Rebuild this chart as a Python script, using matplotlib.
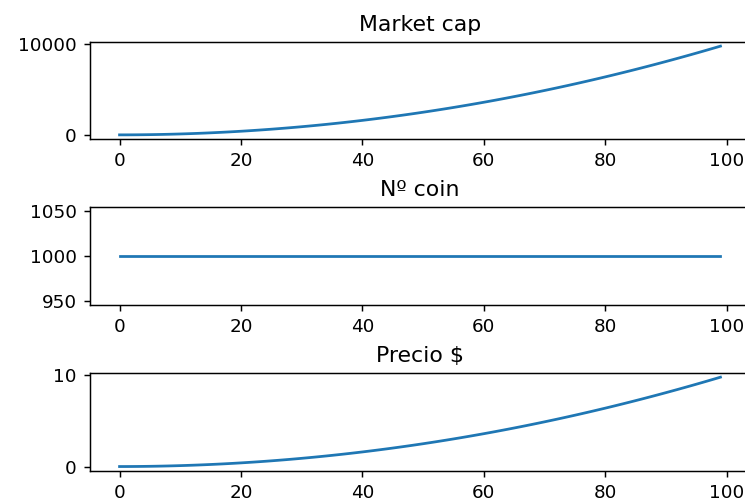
import matplotlib
matplotlib.use('Agg')
import matplotlib.pyplot as plt

# x axis: day index
dias = list(range(100))

market_cap = [
    0, 1, 4, 9, 16, 25, 36, 49, 64, 81,
    100, 121, 144, 169, 196, 225, 256, 289, 324, 361,
    400, 441, 484, 529, 576, 625, 676, 729, 784, 841,
    900, 961, 1024, 1089, 1156, 1225, 1296, 1369, 1444, 1521,
    1600, 1681, 1764, 1849, 1936, 2025, 2116, 2209, 2304, 2401,
    2500, 2601, 2704, 2809, 2916, 3025, 3136, 3249, 3364, 3481,
    3600, 3721, 3844, 3969, 4096, 4225, 4356, 4489, 4624, 4761,
    4900, 5041, 5184, 5329, 5476, 5625, 5776, 5929, 6084, 6241,
    6400, 6561, 6724, 6889, 7056, 7225, 7396, 7569, 7744, 7921,
    8100, 8281, 8464, 8649, 8836, 9025, 9216, 9409, 9604, 9801,
]

n_coin = [
    1000, 1000, 1000, 1000, 1000, 1000, 1000, 1000, 1000, 1000,
    1000, 1000, 1000, 1000, 1000, 1000, 1000, 1000, 1000, 1000,
    1000, 1000, 1000, 1000, 1000, 1000, 1000, 1000, 1000, 1000,
    1000, 1000, 1000, 1000, 1000, 1000, 1000, 1000, 1000, 1000,
    1000, 1000, 1000, 1000, 1000, 1000, 1000, 1000, 1000, 1000,
    1000, 1000, 1000, 1000, 1000, 1000, 1000, 1000, 1000, 1000,
    1000, 1000, 1000, 1000, 1000, 1000, 1000, 1000, 1000, 1000,
    1000, 1000, 1000, 1000, 1000, 1000, 1000, 1000, 1000, 1000,
    1000, 1000, 1000, 1000, 1000, 1000, 1000, 1000, 1000, 1000,
    1000, 1000, 1000, 1000, 1000, 1000, 1000, 1000, 1000, 1000,
]

precio = [
    0.0, 0.001, 0.004, 0.009, 0.016, 0.025, 0.036, 0.049, 0.064, 0.081,
    0.1, 0.121, 0.144, 0.169, 0.196, 0.225, 0.256, 0.289, 0.324, 0.361,
    0.4, 0.441, 0.484, 0.529, 0.576, 0.625, 0.676, 0.729, 0.784, 0.841,
    0.9, 0.961, 1.024, 1.089, 1.156, 1.225, 1.296, 1.369, 1.444, 1.521,
    1.6, 1.681, 1.764, 1.849, 1.936, 2.025, 2.116, 2.209, 2.304, 2.401,
    2.5, 2.601, 2.704, 2.809, 2.916, 3.025, 3.136, 3.249, 3.364, 3.481,
    3.6, 3.721, 3.844, 3.969, 4.096, 4.225, 4.356, 4.489, 4.624, 4.761,
    4.9, 5.041, 5.184, 5.329, 5.476, 5.625, 5.776, 5.929, 6.084, 6.241,
    6.4, 6.561, 6.724, 6.889, 7.056, 7.225, 7.396, 7.569, 7.744, 7.921,
    8.1, 8.281, 8.464, 8.649, 8.836, 9.025, 9.216, 9.409, 9.604, 9.801,
]

titulos = ['Market cap', 'Nº coin', 'Precio $']
series = [market_cap, n_coin, precio]

dpi = 132
fig = plt.figure(figsize=(745 / dpi, 503 / dpi), dpi=dpi)

# axes positions in pixels (top, bottom); the right edge is cut off in the original
left_px, width_px = 89.5, 661
boxes = [(41.7, 139.3), (206.7, 305.0), (372.7, 471.0)]

for (top, bot), titulo, ys in zip(boxes, titulos, series):
    ax = fig.add_axes([left_px / 745, (503 - bot) / 503,
                       width_px / 745, (bot - top) / 503])
    ax.plot(dias, ys)
    ax.set_title(titulo)
    ax.spines['right'].set_visible(False)

fig.savefig('out.png', dpi=dpi)
